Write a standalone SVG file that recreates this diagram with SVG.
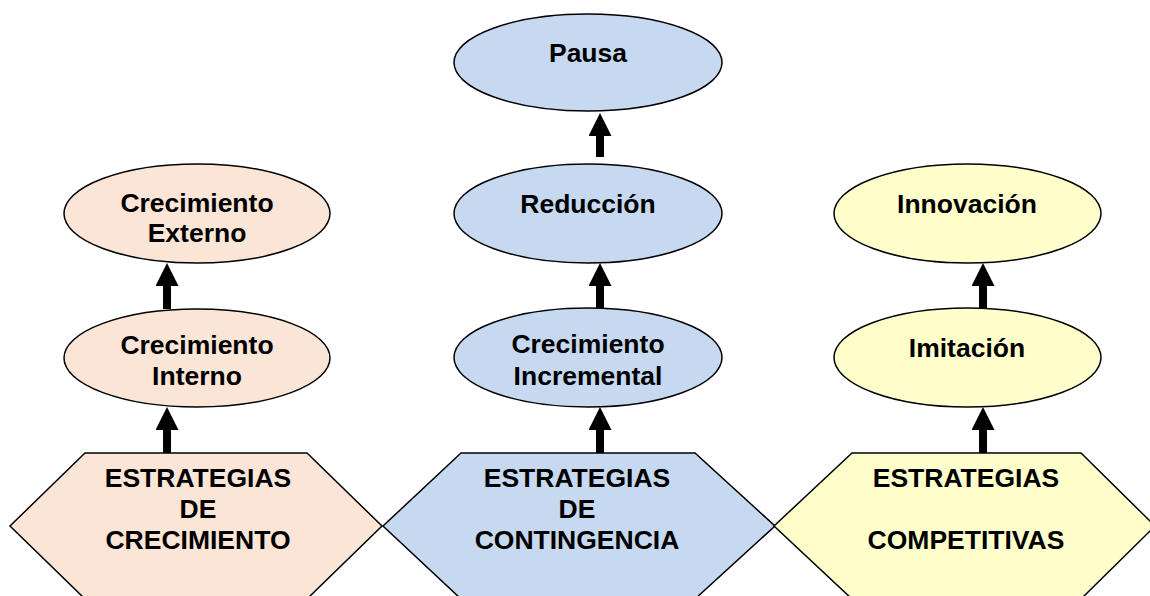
<svg xmlns="http://www.w3.org/2000/svg" width="1150" height="596" viewBox="0 0 1150 596">
<style>
.shape{stroke:#000;stroke-width:1.5}
.peach{fill:#FBE5D6}
.blue{fill:#C6D9F0}
.yellow{fill:#FFFFCC}
text{font-family:"Liberation Sans",Arial,sans-serif;font-weight:bold;font-size:26.5px;fill:#000;text-anchor:middle}
.conn{stroke:#000;stroke-width:8;fill:none}
</style>
<defs>
<marker id="ah" markerUnits="userSpaceOnUse" viewBox="0 0 23 23" markerWidth="23" markerHeight="23" refX="0" refY="11.5" orient="auto">
<path d="M0,0 L23,11.5 L0,23 z" fill="#000"/>
</marker>
</defs>
<rect width="1150" height="596" fill="#fff"/>
<g id="connectors">
<line class="conn" x1="167" y1="453" x2="167" y2="430" marker-end="url(#ah)"/>
<line class="conn" x1="167" y1="309" x2="167" y2="286" marker-end="url(#ah)"/>
<line class="conn" x1="600" y1="453" x2="600" y2="430" marker-end="url(#ah)"/>
<line class="conn" x1="600" y1="308" x2="600" y2="286" marker-end="url(#ah)"/>
<line class="conn" x1="600" y1="157" x2="600" y2="136" marker-end="url(#ah)"/>
<line class="conn" x1="983" y1="453" x2="983" y2="430" marker-end="url(#ah)"/>
<line class="conn" x1="983" y1="308" x2="983" y2="286" marker-end="url(#ah)"/>
</g>
<g id="hex-crecimiento">
<polygon class="shape peach" points="85,453 307,453 382,526 307,599 85,599 10,526"/>
<text x="198" y="487">ESTRATEGIAS</text>
<text x="198" y="518">DE</text>
<text x="198" y="549">CRECIMIENTO</text>
</g>
<g id="hex-contingencia">
<polygon class="shape blue" points="461,453 695,453 775,526 695,599 461,599 383,526"/>
<text x="577" y="487">ESTRATEGIAS</text>
<text x="577" y="518">DE</text>
<text x="577" y="549">CONTINGENCIA</text>
</g>
<g id="hex-competitivas">
<polygon class="shape yellow" points="852,453 1081,453 1155,526 1081,599 852,599 774,526"/>
<text x="966" y="487">ESTRATEGIAS</text>
<text x="966" y="549">COMPETITIVAS</text>
</g>
<g id="crec-interno">
<ellipse class="shape peach" cx="197" cy="358" rx="133" ry="49"/>
<text x="197" y="354">Crecimiento</text>
<text x="197" y="385">Interno</text>
</g>
<g id="crec-externo">
<ellipse class="shape peach" cx="197" cy="213.5" rx="133" ry="49.5"/>
<text x="197" y="212">Crecimiento</text>
<text x="197" y="242">Externo</text>
</g>
<g id="crec-incremental">
<ellipse class="shape blue" cx="588" cy="357.5" rx="134" ry="49.5"/>
<text x="588" y="353">Crecimiento</text>
<text x="588" y="385">Incremental</text>
</g>
<g id="reduccion">
<ellipse class="shape blue" cx="588" cy="213.5" rx="134" ry="49.5"/>
<text x="588" y="213">Reducción</text>
</g>
<g id="pausa">
<ellipse class="shape blue" cx="588" cy="62.5" rx="134" ry="48.5"/>
<text x="588" y="62">Pausa</text>
</g>
<g id="imitacion">
<ellipse class="shape yellow" cx="967.5" cy="357.5" rx="133.5" ry="49.5"/>
<text x="967" y="357">Imitación</text>
</g>
<g id="innovacion">
<ellipse class="shape yellow" cx="967.5" cy="213.5" rx="133.5" ry="49.5"/>
<text x="967" y="213">Innovación</text>
</g>
</svg>
